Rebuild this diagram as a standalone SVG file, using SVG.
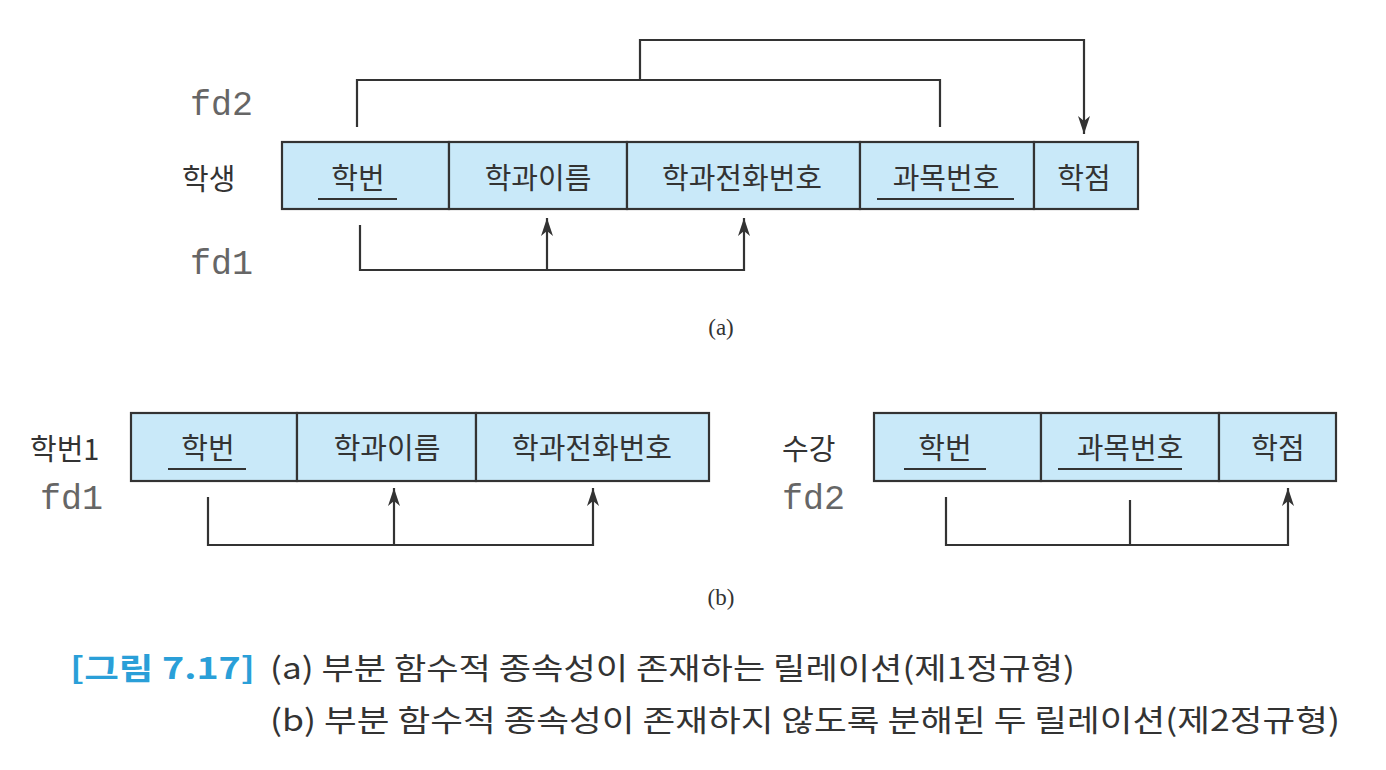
<svg xmlns="http://www.w3.org/2000/svg" width="1386" height="770" viewBox="0 0 1386 770">
<defs>
<marker id="ah" viewBox="0 0 18 12" refX="18" refY="6" markerWidth="18" markerHeight="12" markerUnits="userSpaceOnUse" orient="auto">
<path d="M0,0 L18,6 L0,12 L5,6 Z" fill="#333"/>
</marker>
<style>
.cell{fill:#c9e9f9;stroke:#333;stroke-width:2.2}
.t{font-family:"Noto Sans CJK KR","Noto Sans",sans-serif;font-size:29px;fill:#333;text-anchor:middle;dominant-baseline:central}
.lab{font-family:"Noto Sans CJK KR","Noto Sans",sans-serif;font-size:29px;fill:#333;dominant-baseline:central}
.fd{font-family:"Liberation Mono","DejaVu Sans Mono",monospace;font-size:35px;fill:#666;dominant-baseline:central}
.ul{stroke:#333;stroke-width:2}
.c{fill:none;stroke:#333;stroke-width:2.2}
.sub{font-family:"Liberation Serif","DejaVu Serif",serif;font-size:23px;fill:#333;text-anchor:middle;dominant-baseline:central}
.cap{font-family:"Noto Sans CJK KR","Noto Sans",sans-serif;font-size:30px;fill:#333}
.capb{font-family:"Noto Sans CJK KR","Noto Sans",sans-serif;font-size:30px;fill:#2a9fd8;font-weight:bold}
</style>
</defs>
<rect width="1386" height="770" fill="#fff"/>

<g id="student">
<text class="lab" x="182" y="177">학생</text>
<rect class="cell" x="282" y="142" width="167" height="67"/>
<rect class="cell" x="449" y="142" width="178" height="67"/>
<rect class="cell" x="627" y="142" width="233" height="67"/>
<rect class="cell" x="860" y="142" width="174" height="67"/>
<rect class="cell" x="1034" y="142" width="104" height="67"/>
<text class="t" x="358" y="176">학번</text>
<line class="ul" x1="318" y1="199" x2="397" y2="199"/>
<text class="t" x="538" y="176">학과이름</text>
<text class="t" x="742" y="176">학과전화번호</text>
<text class="t" x="946" y="176">과목번호</text>
<line class="ul" x1="877" y1="199" x2="1014" y2="199"/>
<text class="t" x="1084" y="176">학점</text>
</g>

<g id="labels-a">
<text class="fd" x="190" y="106">fd2</text>
<text class="fd" x="190" y="265">fd1</text>
<text class="sub" x="721" y="327">(a)</text>
</g>

<g id="student1">
<text class="lab" x="30" y="447">학번1</text>
<rect class="cell" x="131" y="413" width="166" height="68"/>
<rect class="cell" x="297" y="413" width="179" height="68"/>
<rect class="cell" x="476" y="413" width="233" height="68"/>
<text class="t" x="208" y="446">학번</text>
<line class="ul" x1="168" y1="469" x2="246" y2="469"/>
<text class="t" x="387" y="446">학과이름</text>
<text class="t" x="592" y="446">학과전화번호</text>
</g>

<g id="enroll">
<text class="lab" x="782" y="447">수강</text>
<rect class="cell" x="874" y="413" width="167" height="68"/>
<rect class="cell" x="1041" y="413" width="178" height="68"/>
<rect class="cell" x="1219" y="413" width="117" height="68"/>
<text class="t" x="945" y="446">학번</text>
<line class="ul" x1="904" y1="469" x2="986" y2="469"/>
<text class="t" x="1130" y="446">과목번호</text>
<line class="ul" x1="1058" y1="469" x2="1182" y2="469"/>
<text class="t" x="1278" y="446">학점</text>
</g>

<g id="labels-b">
<text class="fd" x="40" y="500">fd1</text>
<text class="fd" x="782" y="500">fd2</text>
<text class="sub" x="721" y="597">(b)</text>
</g>

<g id="connectors">
<polyline class="c" points="357,127 357,80 940,80 940,127"/>
<polyline class="c" points="640,80 640,40 1084,40 1084,134" marker-end="url(#ah)"/>
<polyline class="c" points="360,225 360,270 744,270 744,218" marker-end="url(#ah)"/>
<line class="c" x1="547" y1="270" x2="547" y2="218" marker-end="url(#ah)"/>
<polyline class="c" points="208,497 208,545 593,545 593,488" marker-end="url(#ah)"/>
<line class="c" x1="394" y1="545" x2="394" y2="488" marker-end="url(#ah)"/>
<polyline class="c" points="946,497 946,545 1288,545 1288,488" marker-end="url(#ah)"/>
<line class="c" x1="1130" y1="500" x2="1130" y2="545"/>
</g>

<g id="caption">
<text class="capb" x="70" y="679" textLength="185" lengthAdjust="spacingAndGlyphs">[그림 7.17]</text>
<text class="cap" x="270" y="679" textLength="805" lengthAdjust="spacingAndGlyphs">(a) 부분 함수적 종속성이 존재하는 릴레이션(제1정규형)</text>
<text class="cap" x="270" y="731" textLength="1070" lengthAdjust="spacingAndGlyphs">(b) 부분 함수적 종속성이 존재하지 않도록 분해된 두 릴레이션(제2정규형)</text>
</g>
</svg>
